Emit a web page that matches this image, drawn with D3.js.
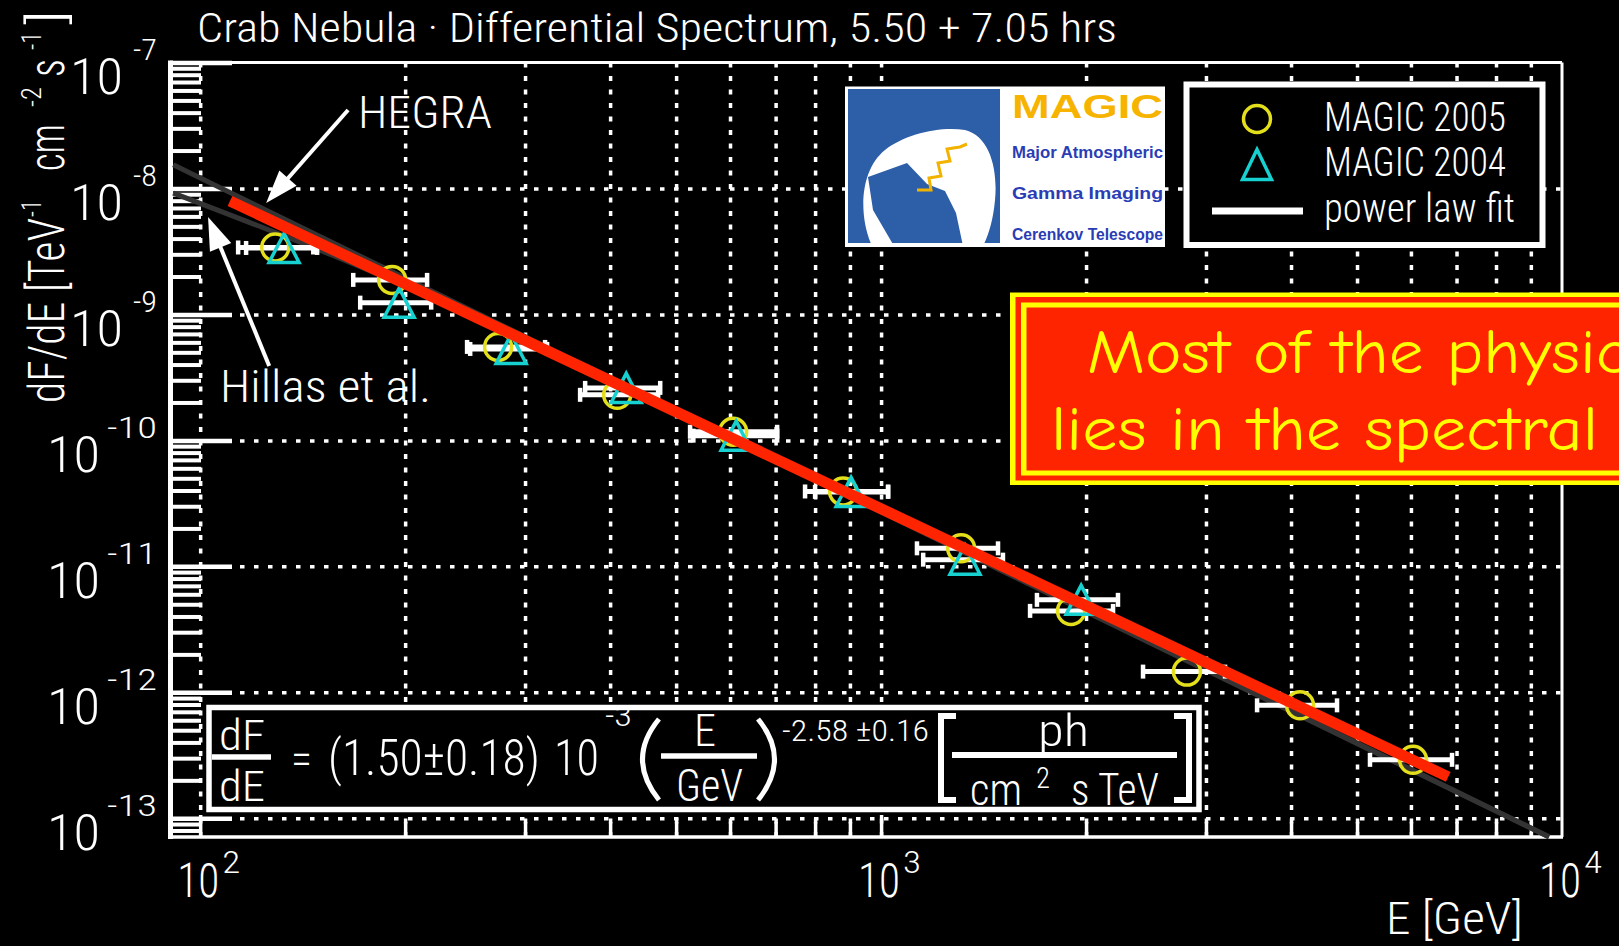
<!DOCTYPE html>
<html><head><meta charset="utf-8">
<script src="https://cdn.jsdelivr.net/npm/d3@7"></script>
<style>
html,body{margin:0;padding:0;background:#000;overflow:hidden}
svg{display:block}
text{font-family:"Roboto Condensed","Roboto","Open Sans",sans-serif;fill:#fff;font-weight:300}
</style></head><body>
<svg id="chart" width="1619" height="946"></svg>
<script>
// ---------------- data ----------------
const energy2005 = [128.9, 191.4, 273.9, 409.7, 606.3, 879.5, 1311, 1901, 2813, 4124, 6042];
const flux2005   = [3.40e-9, 1.88e-9, 5.52e-10, 2.30e-10, 1.17e-10, 3.93e-11, 1.39e-11, 4.43e-12, 1.46e-12, 7.88e-13, 2.91e-13];
const eLow2005   = [113.7, 167.8, 246.6, 361.4, 524.2, 773.3, 1129, 1655, 2425, 3566, 5224];
const eHigh2005  = [146.6, 215.4, 321, 470.5, 703.6, 1024, 1485, 2191, 3200, 4673, 6894];

const energy2004 = [132.8, 196, 286.2, 422.4, 612.5, 903.6, 1328, 1967];
const flux2004   = [3.37e-9, 1.24e-9, 5.32e-10, 2.61e-10, 1.09e-10, 3.90e-11, 1.13e-11, 5.42e-12];
const eLow2004   = [116.8, 171.8, 249.2, 367.6, 530, 800, 1153, 1694];
const eHigh2004  = [148.5, 218.4, 323.2, 473.8, 703.6, 1024, 1510, 2228];

const fitEnergy = [110.6, 6807];
const fitFlux   = [7.96e-9, 2.13e-13];
const hegraEnergy = [91.3, 9570];
const hegraFlux   = [1.54e-8, 7.13e-14];
const hillasEnergy = [91.3, 170, 300, 1000, 9570];
const hillasFlux   = [9.2e-9, 2.45e-9, 6.4e-10, 2.7e-11, 7.1e-14];

const xTickExponents = ["2", "3", "4"];
const yTickExponents = ["-7", "-8", "-9", "-10", "-11", "-12", "-13"];
const gridEnergies = [100,200,300,400,500,600,700,800,900,1000,2000,3000,4000,5000,6000,7000,8000,9000];
const gridFluxes = [1e-8,1e-9,1e-10,1e-11,1e-12,1e-13];

const titleText = "Crab Nebula \u00b7 Differential Spectrum, 5.50 + 7.05 hrs";
const legendLabels = ["MAGIC 2005", "MAGIC 2004", "power law fit"];

// ---------------- setup ----------------
const svg = d3.select("#chart");
svg.append("rect").attr("width",1619).attr("height",946).attr("fill","#000");

const x = d3.scaleLog().domain([90.3, 1e4]).range([170, 1562]);
const y = d3.scaleLog().domain([7.1e-14, 1e-7]).range([837, 62.5]);
const X0 = 170, X1 = 1562, Y0 = 837, Y1 = 62.5;

const YELLOW = "#e3df1a", CYAN = "#17d0d0", RED = "#ff2400";

// ---------------- grid ----------------
const gV = svg.append("g").attr("transform",`translate(0,${Y0})`)
  .call(d3.axisBottom(x).tickValues(gridEnergies).tickSize(-(Y0-Y1)).tickFormat(""));
gV.select(".domain").remove();
gV.selectAll("line").attr("stroke","#fff").attr("stroke-width",3.5).attr("stroke-dasharray","5,8.5");

const gH = svg.append("g").attr("transform",`translate(${X0},0)`)
  .call(d3.axisLeft(y).tickValues(gridFluxes).tickSize(-(X1-X0)).tickFormat(""));
gH.select(".domain").remove();
gH.selectAll("line").attr("stroke","#fff").attr("stroke-width",3.5).attr("stroke-dasharray","4.5,9.5");

// ---------------- frame & ticks ----------------
svg.append("line").attr("x1",X0).attr("x2",X1).attr("y1",Y1).attr("y2",Y1).attr("stroke","#fff").attr("stroke-width",3);
svg.append("line").attr("x1",X1).attr("x2",X1).attr("y1",Y1).attr("y2",Y0).attr("stroke","#fff").attr("stroke-width",3);
svg.append("line").attr("x1",X0-2).attr("x2",X1+1).attr("y1",Y0).attr("y2",Y0).attr("stroke","#fff").attr("stroke-width",3.5);
svg.append("line").attr("x1",X0+0.5).attr("x2",X0+0.5).attr("y1",Y1-2).attr("y2",Y0+2).attr("stroke","#fff").attr("stroke-width",5);

const yMinor = [];
for (let e=-14;e<-7;e++) for (let k=2;k<=9;k++){const v=k*Math.pow(10,e); if(v>=7.1e-14 && v<1e-7) yMinor.push(v);}
const gYm = svg.append("g").attr("transform",`translate(${X0},0)`)
  .call(d3.axisLeft(y).tickValues(yMinor).tickSize(-31).tickFormat(""));
gYm.select(".domain").remove();
gYm.selectAll("line").attr("stroke","#fff").attr("stroke-width",4);
const gYM = svg.append("g").attr("transform",`translate(${X0},0)`)
  .call(d3.axisLeft(y).tickValues([1e-7].concat(gridFluxes)).tickSize(-62).tickFormat(""));
gYM.select(".domain").remove();
gYM.selectAll("line").attr("stroke","#fff").attr("stroke-width",4.5);

const gXm = svg.append("g").attr("transform",`translate(0,${Y0})`)
  .call(d3.axisBottom(x).tickValues(gridEnergies.filter(d=>d!==100 && d!==1000)).tickSize(-15).tickFormat(""));
gXm.select(".domain").remove();
gXm.selectAll("line").attr("stroke","#fff").attr("stroke-width",3.5);
const gXM = svg.append("g").attr("transform",`translate(0,${Y0})`)
  .call(d3.axisBottom(x).tickValues([100,1000]).tickSize(-22).tickFormat(""));
gXM.select(".domain").remove();
gXM.selectAll("line").attr("stroke","#fff").attr("stroke-width",3.5);

// tick labels
yTickExponents.forEach(ex => {
  const v = Math.pow(10, +ex), yy = y(v);
  const single = ex.length === 2;
  svg.append("text").attr("x", single ? 123 : 100).attr("y", yy + 31.5).attr("text-anchor","end")
    .attr("font-size",50).attr("textLength",53).attr("lengthAdjust","spacingAndGlyphs").text("10");
  svg.append("text").attr("x",157).attr("y", yy - 2.5).attr("text-anchor","end")
    .attr("font-size",29).attr("textLength", single ? 24 : 50).attr("lengthAdjust","spacingAndGlyphs").text(ex);
});
xTickExponents.forEach(ex => {
  const xx = x(Math.pow(10, +ex));
  svg.append("text").attr("x", xx - 23).attr("y", 897)
    .attr("font-size",48).attr("textLength",42).attr("lengthAdjust","spacingAndGlyphs").text("10");
  svg.append("text").attr("x", xx + 22).attr("y", 873)
    .attr("font-size",31).attr("textLength",18).attr("lengthAdjust","spacingAndGlyphs").text(ex);
});

// axis titles
svg.append("text").attr("x",1523).attr("y",934).attr("text-anchor","end").attr("font-size",45)
  .attr("textLength",137).attr("lengthAdjust","spacingAndGlyphs").text("E [GeV]");
const yt = svg.append("g").attr("transform","rotate(-90)");
const ytPieces = [
  {t:"dF/dE [TeV", u:403, len:185, fs:50, v:64},
  {t:"-1", u:217, len:17, fs:27, v:41},
  {t:"cm", u:171, len:47, fs:50, v:64},
  {t:"-2", u:107, len:20, fs:27, v:41},
  {t:"s", u:77, len:18, fs:50, v:64},
  {t:"-1", u:50, len:18, fs:27, v:41},
  {t:"]", u:25, len:15, fs:50, v:64}
];
ytPieces.forEach(p => yt.append("text").attr("x",-p.u).attr("y",p.v).attr("font-size",p.fs)
  .attr("textLength",p.len).attr("lengthAdjust","spacingAndGlyphs").text(p.t));

// title
svg.append("text").attr("x",197).attr("y",42).attr("font-size",41)
  .attr("textLength",920).attr("lengthAdjust","spacingAndGlyphs").text(titleText);

// ---------------- reference lines ----------------
const line = d3.line().x(d=>x(d[0])).y(d=>y(d[1]));
svg.append("path").attr("d", line(d3.zip(hegraEnergy, hegraFlux)))
  .attr("fill","none").attr("stroke","#333").attr("stroke-width",5);
svg.append("path").attr("d", line.curve(d3.curveMonotoneX)(d3.zip(hillasEnergy, hillasFlux)))
  .attr("fill","none").attr("stroke","#333").attr("stroke-width",5);
line.curve(d3.curveLinear);

// ---------------- error bars ----------------
function errorBars(E, F, lo, hi) {
  const g = svg.append("g");
  E.forEach((e,i) => {
    const yy = y(F[i]), xa = x(lo[i]), xb = x(hi[i]);
    g.append("line").attr("x1",xa).attr("x2",xb).attr("y1",yy).attr("y2",yy).attr("stroke","#fff").attr("stroke-width",5);
    [xa, xb].forEach(xc => g.append("line").attr("x1",xc).attr("x2",xc).attr("y1",yy-7).attr("y2",yy+7)
      .attr("stroke","#fff").attr("stroke-width",4.5));
  });
}
errorBars(energy2005, flux2005, eLow2005, eHigh2005);
errorBars(energy2004, flux2004, eLow2004, eHigh2004);

// markers
svg.append("g").selectAll("circle").data(d3.zip(energy2005, flux2005)).join("circle")
  .attr("cx",d=>x(d[0])).attr("cy",d=>y(d[1])).attr("r",13.5)
  .attr("fill","none").attr("stroke",YELLOW).attr("stroke-width",3.5);
const tri = (cx,cy,w,h) => `M${cx},${cy-h/2}L${cx+w/2},${cy+h/2}L${cx-w/2},${cy+h/2}Z`;
svg.append("g").selectAll("path").data(d3.zip(energy2004, flux2004)).join("path")
  .attr("d",d=>tri(x(d[0]), y(d[1]), 30, 29))
  .attr("fill","none").attr("stroke",CYAN).attr("stroke-width",3.5).attr("stroke-linejoin","miter");

// red fit line
svg.append("path").attr("d", line(d3.zip(fitEnergy, fitFlux)))
  .attr("fill","none").attr("stroke",RED).attr("stroke-width",11).attr("stroke-linecap","butt");

// ---------------- arrows & labels ----------------
function arrow(e0,f0,e1,f1) {
  const p0=[x(e0),y(f0)], p1=[x(e1),y(f1)];
  const dx=p1[0]-p0[0], dy=p1[1]-p0[1], L=Math.hypot(dx,dy), ux=dx/L, uy=dy/L;
  const hl=33, hw=11.5, bx=p1[0]-ux*hl, by=p1[1]-uy*hl;
  svg.append("line").attr("x1",p0[0]).attr("y1",p0[1]).attr("x2",bx+ux*4).attr("y2",by+uy*4)
    .attr("stroke","#fff").attr("stroke-width",4);
  svg.append("path").attr("d",`M${p1[0]},${p1[1]}L${bx-uy*hw},${by+ux*hw}L${bx+uy*hw},${by-ux*hw}Z`).attr("fill","#fff");
}
arrow(164.9, 4.20e-8, 125.0, 7.67e-9);
arrow(126.3, 3.90e-10, 102.7, 5.94e-9);
svg.append("text").attr("x",358).attr("y",128).attr("font-size",45)
  .attr("textLength",134).attr("lengthAdjust","spacingAndGlyphs").text("HEGRA");
svg.append("text").attr("x",220).attr("y",402).attr("font-size",45)
  .attr("textLength",211).attr("lengthAdjust","spacingAndGlyphs").text("Hillas et al.");

// ---------------- formula box ----------------
const fb = svg.append("g");
fb.append("rect").attr("x",209).attr("y",707.5).attr("width",990).attr("height",102)
  .attr("fill","#000").attr("stroke","#fff").attr("stroke-width",5.5);
// text squeezed horizontally by a transform so that its box matches what is drawn
function ft(t, xx, yy, fs, width) {
  const el = fb.append("text").attr("x",0).attr("y",0).attr("font-size",fs).text(t);
  const w = el.node().getComputedTextLength();
  el.attr("transform", `translate(${xx},${yy}) scale(${width / w},1)`);
  return el;
}
const fl = (x1,x2,yy,w) => fb.append("line").attr("x1",x1).attr("x2",x2).attr("y1",yy).attr("y2",yy).attr("stroke","#fff").attr("stroke-width",w);
ft("dF",219,750,42,46); fl(212,271,757,5.5); ft("dE",219,801,42,46);
ft("=",291,774,44,21);
ft("(1.50\u00b10.18)",328,775,50,212);
ft("10",554,775,50,45);
ft("-3",605,726,30,27);
fb.append("path").attr("d","M659,719 Q626,759 659,800").attr("fill","none").attr("stroke","#fff").attr("stroke-width",5);
ft("E",694,746,45,22); fl(661,757,756,5.5); ft("GeV",676,801,45,67);
fb.append("path").attr("d","M758,719 Q791,759 758,800").attr("fill","none").attr("stroke","#fff").attr("stroke-width",5);
ft("-2.58 \u00b10.16",782,741,30,147);
fb.append("path").attr("d","M956,716 H941 V800 H956").attr("fill","none").attr("stroke","#fff").attr("stroke-width",6);
fb.append("path").attr("d","M1174,716 H1189 V800 H1174").attr("fill","none").attr("stroke","#fff").attr("stroke-width",6);
ft("ph",1038,746,45,51); fl(952,1177,755,6);
ft("cm",970,805,45,52); ft("2",1036,788,30,14); ft("s TeV",1071,805,45,88);

// ---------------- MAGIC logo ----------------
const lg = svg.append("g");
lg.append("rect").attr("x",845).attr("y",86.5).attr("width",320).attr("height",160.5).attr("fill","#fff");
lg.append("rect").attr("x",848).attr("y",89).attr("width",152).attr("height",154).attr("fill","#2d5ea8");
lg.append("clipPath").attr("id","blueclip").append("rect").attr("x",848).attr("y",89).attr("width",152).attr("height",154);
const lc = lg.append("g").attr("clip-path","url(#blueclip)");
lc.append("path").attr("d","M872,246 C858,215 860,170 885,150 C905,134 940,126 965,130 C990,136 998,170 995,200 C993,222 988,236 983,246 Z").attr("fill","#fff");
lc.append("path").attr("d","M868,177 L907,163 L927,184 L945,191 L956,213 L963,246 L894,246 L873,210 Z").attr("fill","#2d5ea8");
lc.append("polyline").attr("points","917,190 931,190 929,178 941,176 938,163 950,161 947,149 960,147 967,144")
  .attr("fill","none").attr("stroke","#f2b300").attr("stroke-width",3);
const lt = (t,yy,fs,col,len) => lg.append("text").attr("x",1012).attr("y",yy).attr("font-size",fs)
  .style("font-weight","700").style("font-family","'Liberation Sans','DejaVu Sans',sans-serif").style("fill",col)
  .attr("textLength",len).attr("lengthAdjust","spacingAndGlyphs").text(t);
lt("MAGIC",118,34,"#f6b400",151);
lt("Major Atmospheric",158,16,"#2a3db5",151);
lt("Gamma  Imaging",199,16,"#2a3db5",151);
lt("Cerenkov Telescope",240,16,"#2a3db5",151);

// ---------------- legend ----------------
const leg = svg.append("g");
leg.append("rect").attr("x",1186.5).attr("y",84.5).attr("width",356).attr("height",160.5)
  .attr("fill","#000").attr("stroke","#fff").attr("stroke-width",6);
leg.append("circle").attr("cx",1257).attr("cy",119).attr("r",13.5).attr("fill","none").attr("stroke",YELLOW).attr("stroke-width",3.5);
leg.append("path").attr("d",tri(1257,164.5,29,30)).attr("fill","none").attr("stroke",CYAN).attr("stroke-width",3.5);
leg.append("line").attr("x1",1212).attr("x2",1303).attr("y1",211).attr("y2",211).attr("stroke","#fff").attr("stroke-width",7);
[[legendLabels[0],131,182],[legendLabels[1],176,182],[legendLabels[2],222,191]].forEach(([t,yy,len]) =>
  leg.append("text").attr("x",1324).attr("y",yy).attr("font-size",40)
    .attr("textLength",len).attr("lengthAdjust","spacingAndGlyphs").text(t));

// ---------------- slide annotation ----------------
const an = svg.append("g");
an.append("rect").attr("x",1010).attr("y",292.5).attr("width",700).attr("height",192.5).attr("fill","#ffff00");
an.append("rect").attr("x",1015.5).attr("y",297).attr("width",700).attr("height",183.5).attr("fill",RED);
an.append("rect").attr("x",1021).attr("y",302.5).attr("width",700).attr("height",173).attr("fill","#ffff00");
an.append("rect").attr("x",1026.5).attr("y",307.5).attr("width",700).attr("height",163).attr("fill",RED);
const annStyle = s => s.style("fill","#ffff00").style("font-family","'Comic Sans MS','Comic Neue','Noto Sans','Open Sans',sans-serif")
  .style("font-weight","400").attr("font-size",63).attr("lengthAdjust","spacingAndGlyphs");
an.append("text").attr("x",1087).attr("y",373).attr("textLength",571).call(annStyle).text("Most of the physics");
an.append("text").attr("x",1051).attr("y",450).attr("textLength",547).call(annStyle).text("lies in the spectral");
</script>
</body></html>
